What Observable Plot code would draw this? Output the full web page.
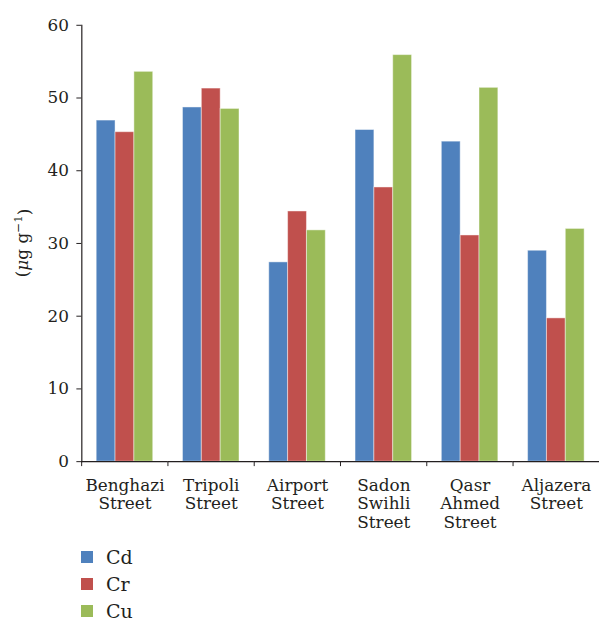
<!DOCTYPE html>
<html>
<head>
<meta charset="utf-8">
<script src="https://cdn.jsdelivr.net/npm/d3@7"></script>
<script src="https://cdn.jsdelivr.net/npm/@observablehq/plot@0.6"></script>
<style>
  html, body { margin: 0; padding: 0; background: #fff; }
  #wrap { width: 600px; height: 620px; overflow: hidden; position: relative; font-family: "DejaVu Serif", serif; color: #231f20; }
  #legend { position: absolute; left: 81px; top: 543px; }
  .row { display: flex; align-items: center; height: 27px; font-size: 19px; }
  .sw { width: 12px; height: 12px; margin-right: 13px; }
</style>
</head>
<body>
<div id="wrap">
  <div id="chart"></div>
  <div id="legend"></div>
</div>
<script>
// ---- data ----
const streets = ["Benghazi\nStreet", "Tripoli\nStreet", "Airport\nStreet", "Sadon\nSwihli\nStreet", "Qasr\nAhmed\nStreet", "Aljazera\nStreet"];
const metals = ["Cd", "Cr", "Cu"];
const cdValues = [46.9, 48.7, 27.4, 45.6, 44.0, 29.0];
const crValues = [45.3, 51.3, 34.4, 37.7, 31.1, 19.7];
const cuValues = [53.6, 48.5, 31.8, 55.9, 51.4, 32.0];
const colors = ["#4f81bd", "#c0504d", "#9bbb59"];
const yTicks = [0, 10, 20, 30, 40, 50, 60];

const series = {Cd: cdValues, Cr: crValues, Cu: cuValues};
const data = streets.flatMap((s, i) => metals.map(m => ({street: s, metal: m, value: series[m][i]})));

const W = 605, H = 540, ML = 81, MR = 0, MT = 25, MB = 75;
const step = (W - ML - MR) / streets.length;
const ink = "#231f20";

const chart = Plot.plot({
  width: W, height: H,
  marginLeft: ML, marginRight: MR, marginTop: MT, marginBottom: MB,
  style: {fontFamily: "DejaVu Serif, serif", fontSize: "17px", color: ink, background: "white", overflow: "visible"},
  fx: {domain: streets, padding: 0, label: null, axis: null},
  x: {domain: metals, paddingInner: 0, paddingOuter: 0.76, axis: null},
  y: {domain: [0, 60], label: null, axis: null},
  color: {domain: metals, range: colors},
  marks: [
    Plot.barY(data, {fx: "street", x: "metal", y: "value", fill: "metal", stroke: "white", strokeOpacity: 0.45, strokeWidth: 1}),
    Plot.ruleY([0], {stroke: ink, strokeWidth: 1.2}),
    Plot.frame({anchor: "left", facetAnchor: "left", stroke: ink, strokeWidth: 1.2}),
    Plot.axisY({anchor: "left", ticks: yTicks, tickSize: 5, tickPadding: 8, label: null, stroke: ink, fill: ink, fontSize: 17}),
    Plot.axisFx({anchor: "bottom", tickSize: 0, tickPadding: 16, label: null, lineHeight: 1.1, fontSize: 17, fill: ink}),
    Plot.axisFx({anchor: "bottom", tickSize: 5, tickFormat: () => "", label: null, dx: -step / 2, stroke: ink})
  ]
});
document.getElementById("chart").appendChild(chart);

// y-axis unit label
const svg = d3.select(chart);
const lab = svg.append("text")
  .attr("transform", `translate(28, ${MT + (H - MT - MB) / 2}) rotate(-90)`)
  .attr("text-anchor", "middle")
  .attr("fill", ink)
  .style("font-family", "DejaVu Serif, serif")
  .style("font-size", "17px");
lab.append("tspan").text("(");
lab.append("tspan").attr("font-style", "italic").text("μ");
lab.append("tspan").text("g g");
lab.append("tspan").attr("dy", "-0.45em").style("font-size", "12px").text("−1");
lab.append("tspan").attr("dy", "0.45em").text(")");

// legend
const legend = d3.select("#legend");
metals.forEach((m, i) => {
  const row = legend.append("div").attr("class", "row");
  row.append("div").attr("class", "sw").style("background", colors[i]);
  row.append("span").text(m);
});
</script>
</body>
</html>
